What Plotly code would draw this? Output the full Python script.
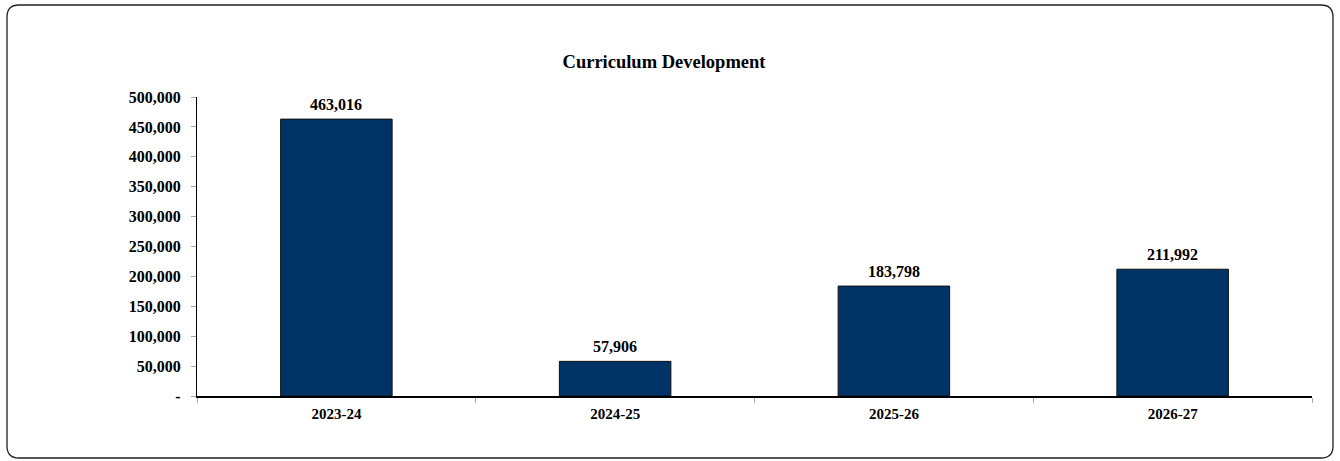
import plotly.graph_objects as go

categories = ["2023-24", "2024-25", "2025-26", "2026-27"]
values = [463016, 57906, 183798, 211992]
ytick_vals = [0, 50000, 100000, 150000, 200000, 250000, 300000, 350000, 400000, 450000, 500000]
ytick_text = ["-"] + [f"{v:,}" for v in ytick_vals[1:]]
title_text = "Curriculum Development"

W, H = 1340, 461
L, R, T, B = 197, 28, 97, 65
pw, ph = W - L - R, H - T - B

def px2x(px):
    return (px - L) / pw

def px2y(py):
    return (H - B - py) / ph

x0, x1 = px2x(7), px2x(1333)
y0, y1 = px2y(458), px2y(5)
rx, ry = 12 / pw, 12 / ph
path = (f"M {x0+rx},{y1} L {x1-rx},{y1} Q {x1},{y1} {x1},{y1-ry} "
        f"L {x1},{y0+ry} Q {x1},{y0} {x1-rx},{y0} "
        f"L {x0+rx},{y0} Q {x0},{y0} {x0},{y0+ry} "
        f"L {x0},{y1-ry} Q {x0},{y1} {x0+rx},{y1} Z")

font = "Liberation Serif, Times New Roman, serif"

fig = go.Figure(go.Bar(
    x=categories, y=values,
    marker=dict(color="#003366", line=dict(color="#111111", width=1)),
    width=0.4,
    cliponaxis=False,
))

annotations = [
    dict(x=c, y=v, xref="x", yref="y", text=f"<b>{v:,}</b>", showarrow=False,
         yanchor="bottom", yshift=4,
         font=dict(family=font, size=16, color="black"))
    for c, v in zip(categories, values)
]

fig.update_layout(
    width=W, height=H,
    margin=dict(l=L, r=R, t=T, b=B),
    paper_bgcolor="white", plot_bgcolor="white",
    showlegend=False,
    title=dict(text=f"<b>{title_text}</b>", x=664 / W, xref="container",
               y=1 - 62 / H, yref="container", yanchor="middle", xanchor="center",
               font=dict(family=font, size=18.5, color="black")),
    font=dict(family=font, color="black"),
    annotations=annotations,
    shapes=[dict(type="path", path=path, xref="paper", yref="paper",
                 line=dict(color="#222222", width=1.3), layer="below")],
)
fig.update_xaxes(
    showline=True, linecolor="black", linewidth=1.5,
    ticks="outside", tickson="boundaries", tickcolor="#aaaaaa", ticklen=5,
    tickfont=dict(family=font, size=15, color="black"),
    tickprefix="<b>", ticksuffix="</b>", ticklabelstandoff=3,
    showgrid=False, zeroline=False,
)
fig.update_yaxes(
    range=[0, 500000], tickvals=ytick_vals, ticktext=[f"<b>{t}</b>" for t in ytick_text],
    showline=True, linecolor="black", linewidth=1.2,
    ticks="outside", tickcolor="#aaaaaa", ticklen=5, ticklabelstandoff=7,
    tickfont=dict(family=font, size=16, color="black"),
    showgrid=False, zeroline=False,
)

fig.write_html("out.html", config={"displayModeBar": False},
               post_script="document.body.style.margin='0';")
